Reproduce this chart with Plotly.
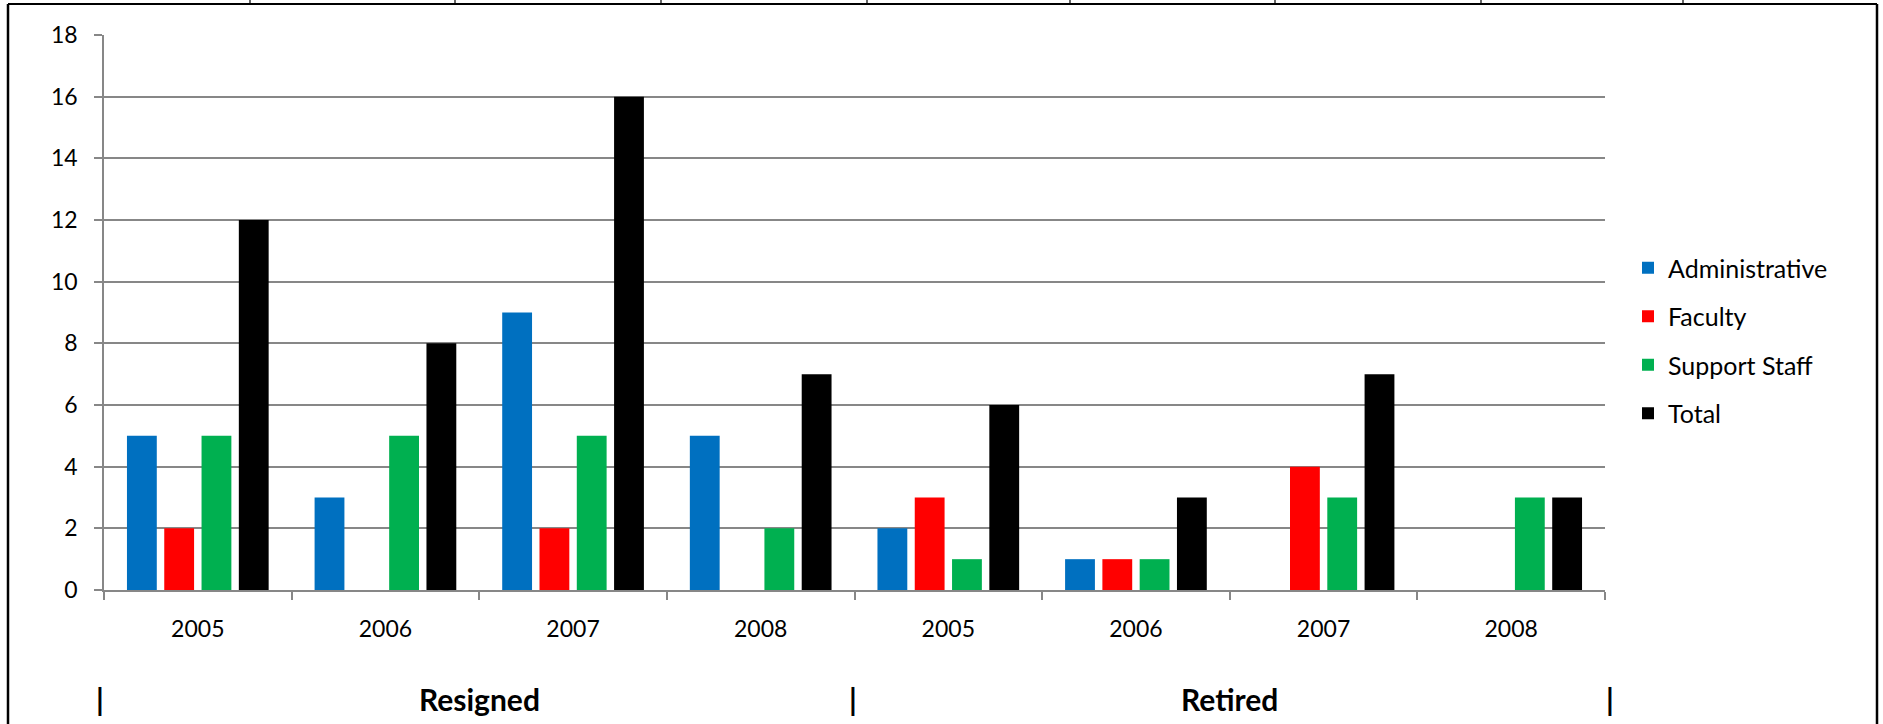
import plotly.graph_objects as go

# ---- data -------------------------------------------------------------
groups = ["Resigned", "Retired"]
years = ["2005", "2006", "2007", "2008"]
series_names = ["Administrative", "Faculty", "Support Staff", "Total"]
series_colors = ["#0070C0", "#FF0000", "#00B050", "#000000"]

administrative = [5, 3, 9, 5, 2, 1, 0, 0]
faculty = [2, 0, 2, 0, 3, 1, 4, 0]
support_staff = [5, 5, 5, 2, 1, 1, 3, 3]
total = [12, 8, 16, 7, 6, 3, 7, 3]

y_ticks = list(range(0, 19, 2))

# ---- figure geometry (pixels) -----------------------------------------
W, H = 1883, 724
PL, PR, PT, PB = 104, 1605, 35, 590  # plot-area edges


def fx(px):
    return (px - PL) / (PR - PL)


def fy(py):
    return (PB - py) / (PB - PT)


categories = [f"{g} {y}" for g in groups for y in years]
tick_text = [y for g in groups for y in years]
values = [administrative, faculty, support_staff, total]

FONT = "Lato"
GRID = "#878787"

fig = go.Figure()
for name, color, vals in zip(series_names, series_colors, values):
    fig.add_trace(
        go.Bar(
            name=name,
            x=categories,
            y=vals,
            marker=dict(color=color, line=dict(width=0)),
            legendgroup=name,
        )
    )

# ---- frame around the page --------------------------------------------
shapes = []
frame_left, frame_right, frame_top = 8, 1877, 4
shapes.append(dict(type="line", xref="paper", yref="paper",
                   x0=fx(frame_left), x1=fx(frame_left), y0=fy(frame_top), y1=fy(H + 5),
                   line=dict(color="black", width=2.5)))
shapes.append(dict(type="line", xref="paper", yref="paper",
                   x0=fx(frame_right), x1=fx(frame_right), y0=fy(frame_top), y1=fy(H + 5),
                   line=dict(color="black", width=2.5)))
shapes.append(dict(type="line", xref="paper", yref="paper",
                   x0=fx(frame_left), x1=fx(frame_right), y0=fy(frame_top), y1=fy(frame_top),
                   line=dict(color="black", width=2)))
for sx in [250, 455, 661, 867, 1070, 1275, 1481, 1683]:
    shapes.append(dict(type="line", xref="paper", yref="paper",
                       x0=fx(sx), x1=fx(sx), y0=fy(-2), y1=fy(frame_top),
                       line=dict(color="black", width=1.2)))

# ---- group labels under the category axis -----------------------------
annotations = []
label_y = fy(699)
n_years = len(years)
for gi, g in enumerate(groups):
    center = gi * n_years + (n_years - 1) / 2
    annotations.append(dict(x=center, y=label_y, xref="x", yref="paper",
                            text=f"<b>{g}</b>", showarrow=False,
                            font=dict(family=FONT, size=30, color="black"),
                            xanchor="center", yanchor="middle"))
pipe_shift = [-4, -2, 5]
for bi in range(len(groups) + 1):
    annotations.append(dict(x=bi * n_years - 0.5, y=label_y, xref="x", yref="paper",
                            text="<b>|</b>", showarrow=False, xshift=pipe_shift[bi],
                            font=dict(family=FONT, size=30, color="black"),
                            xanchor="center", yanchor="middle"))

fig.update_layout(
    width=W, height=H,
    margin=dict(l=PL, r=W - PR, t=PT, b=H - PB, pad=0),
    paper_bgcolor="white", plot_bgcolor="white",
    barmode="group", bargap=0.205, bargroupgap=0.2,
    font=dict(family=FONT, size=23, color="black"),
    showlegend=True,
    legend=dict(
        x=fx(1628), xanchor="left",
        y=fy(340.5), yanchor="middle",
        font=dict(family=FONT, size=25, color="black"),
        tracegroupgap=13,
        traceorder="grouped",
        bgcolor="rgba(0,0,0,0)",
    ),
    shapes=shapes,
    annotations=annotations,
)

fig.update_xaxes(
    type="category",
    categoryorder="array", categoryarray=categories,
    tickmode="array", tickvals=categories, ticktext=tick_text,
    tickson="boundaries",
    ticks="outside", ticklen=8, tickwidth=1.5, tickcolor=GRID,
    showline=True, linecolor=GRID, linewidth=1.5,
    showgrid=False, zeroline=False,
    ticklabelstandoff=18,
    tickfont=dict(family=FONT, size=23, color="black"),
    range=[-0.5, len(categories) - 0.5],
)
fig.update_yaxes(
    range=[0, 18],
    tickmode="array", tickvals=y_ticks,
    ticks="outside", ticklen=8, tickwidth=1.5, tickcolor=GRID,
    showline=True, linecolor=GRID, linewidth=1.5,
    showgrid=True, gridcolor=GRID, gridwidth=1.5,
    zeroline=False,
    ticklabelstandoff=12,
    tickfont=dict(family=FONT, size=23, color="black"),
)

fig.write_html("out.html")
